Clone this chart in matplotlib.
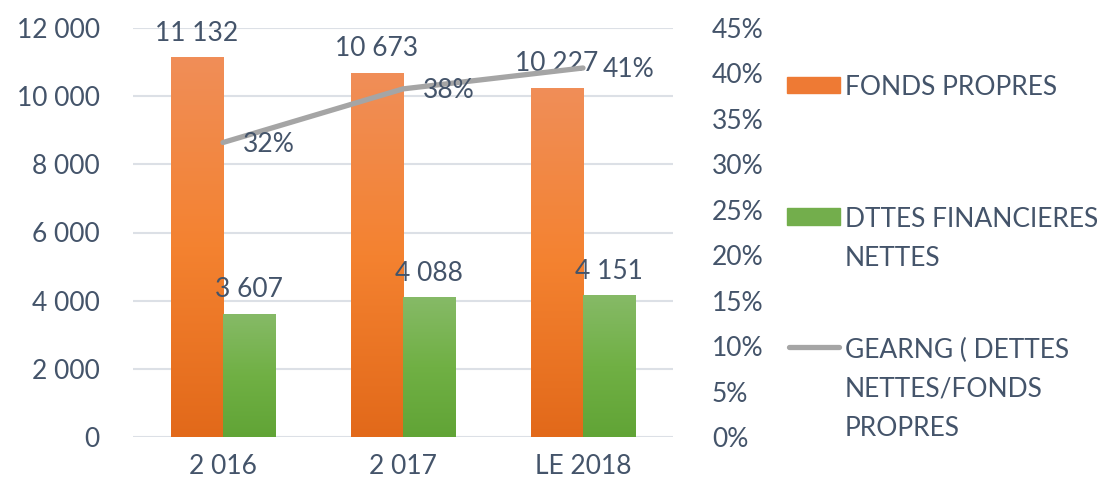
import numpy as np
import matplotlib.pyplot as plt
from matplotlib.patches import Rectangle
from matplotlib.lines import Line2D
from matplotlib.colors import LinearSegmentedColormap

# data
categories = ['2 016', '2 017', 'LE 2018']
fonds_propres = [11132, 10673, 10227]
dettes_nettes = [3607, 4088, 4151]
gearing = [0.324, 0.383, 0.406]
gearing_labels = ['32%', '38%', '41%']

txt = '#44546A'
plt.rcParams['font.family'] = ['Lato', 'DejaVu Sans']
plt.rcParams['font.size'] = 19

W, H = 1107, 491
fig = plt.figure(figsize=(W / 100, H / 100), dpi=100)
ax = fig.add_axes([133 / W, 1 - 437 / H, 540 / W, 409 / H])
ax2 = ax.twinx()

x = np.arange(len(categories))
bw = 0.29

orange_cm = LinearSegmentedColormap.from_list('o', ['#E2691A', '#F48230', '#F08E58'])
green_cm = LinearSegmentedColormap.from_list('g', ['#61A436', '#70B044', '#86BA67'])
grad = np.linspace(0, 1, 256).reshape(-1, 1)


def grad_bars(vals, offset, cmap):
    bars = ax.bar(x + offset, vals, bw, color='none', zorder=2)
    for b in bars:
        x0, y0 = b.get_x(), b.get_y()
        ax.imshow(grad, extent=[x0, x0 + b.get_width(), y0, y0 + b.get_height()],
                  origin='lower', aspect='auto', cmap=cmap, zorder=2)
    return bars


b1 = grad_bars(fonds_propres, -bw / 2, orange_cm)
b2 = grad_bars(dettes_nettes, bw / 2, green_cm)

for bars, vals in ((b1, fonds_propres), (b2, dettes_nettes)):
    for b, v in zip(bars, vals):
        ax.annotate(f'{v:,}'.replace(',', ' '), (b.get_x() + b.get_width() / 2, v),
                    xytext=(0, 12), textcoords='offset pixels', ha='center',
                    va='bottom', color=txt)

ax.set_xlim(-0.5, len(categories) - 0.5)
ax.set_ylim(0, 12000)
ax.set_yticks(np.arange(0, 12001, 2000))
ax.set_yticklabels([f'{v:,}'.replace(',', ' ') for v in range(0, 12001, 2000)])
ax.set_xticks(x)
ax.set_xticklabels(categories)
ax.grid(axis='y', color='#DCE0E6', linewidth=1.5)
ax.set_axisbelow(True)
ax.tick_params(length=0, colors=txt, labelsize=19)
ax.tick_params(axis='y', pad=24)
ax.tick_params(axis='x', pad=12)
for s in ax.spines.values():
    s.set_visible(False)

ax2.plot(x, gearing, color='#A5A5A5', linewidth=3.8, solid_capstyle='round', zorder=3)
for xi, g, lab in zip(x, gearing, gearing_labels):
    ax2.annotate(lab, (xi, g), xytext=(20, -2), textcoords='offset pixels',
                 ha='left', va='center', color=txt)
ax2.set_ylim(0, 0.45)
ax2.set_yticks(np.arange(0, 0.451, 0.05))
ax2.set_yticklabels([f'{int(round(v * 100))}%' for v in np.arange(0, 0.451, 0.05)])
ax2.tick_params(length=0, colors=txt, labelsize=19, pad=28)
for s in ax2.spines.values():
    s.set_visible(False)

# legend drawn by hand to match the layout
fig.patches.append(Rectangle((787 / W, 1 - 93 / H), 53 / W, 16 / H,
                             transform=fig.transFigure, color='#EE7A34'))
fig.patches.append(Rectangle((787 / W, 1 - 225 / H), 53 / W, 17 / H,
                             transform=fig.transFigure, color='#73AE4C'))
fig.lines.append(Line2D([789 / W, 839 / W], [1 - 347 / H] * 2, transform=fig.transFigure,
                        color='#A5A5A5', linewidth=3.8, solid_capstyle='round'))
leg_labels = ['FONDS PROPRES', 'DTTES FINANCIERES\nNETTES',
              'GEARNG ( DETTES\nNETTES/FONDS\nPROPRES']
for lab, yb in zip(leg_labels, [95, 227, 358]):
    for i, line in enumerate(lab.split('\n')):
        fig.text(845 / W, 1 - (yb + 39 * i) / H, line, ha='left', va='baseline',
                 color=txt)

fig.savefig('out.png', dpi=100)
